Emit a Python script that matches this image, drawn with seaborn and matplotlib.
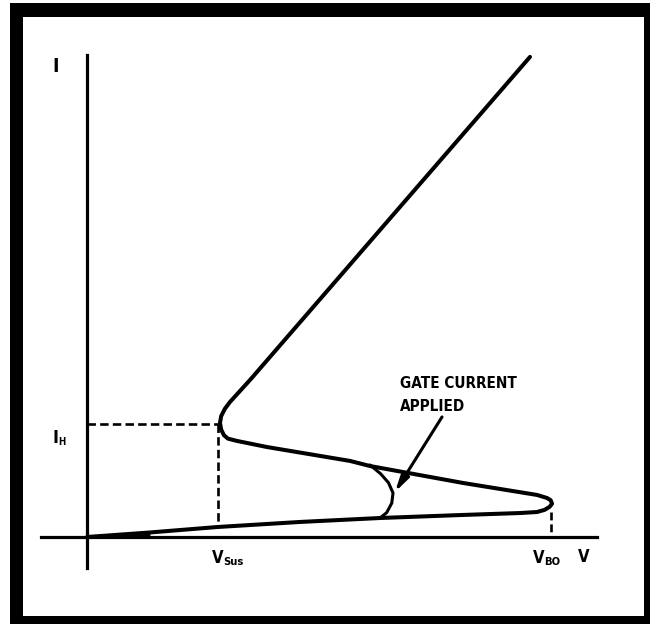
"""Характеристика тиристора: ток I от напряжения V"""

import matplotlib
matplotlib.use('Agg')
import matplotlib.pyplot as plt
import matplotlib.patches as mpatches
import seaborn as sns

# основная кривая (V, I), от начала координат до верхнего луча
curve_v = [0.0, 1.352, 2.790, 4.571, 6.288, 8.069, 9.292, 9.657, 9.820, 9.930,
           9.979, 9.950, 9.871, 9.657, 8.069, 6.073, 5.644, 3.863, 3.219,
           3.026, 2.940, 2.880, 2.854, 2.880, 2.960, 3.069, 3.498, 9.506]
curve_i = [0.0, 0.040, 0.088, 0.133, 0.168, 0.195, 0.212, 0.221, 0.240, 0.268,
           0.295, 0.325, 0.345, 0.372, 0.478, 0.628, 0.673, 0.796, 0.850,
           0.870, 0.900, 0.950, 1.009, 1.070, 1.135, 1.195, 1.389, 4.248]

# клин у начала координат
wedge_v = [0.0, 1.352]
wedge_top = [0.0, 0.040]
wedge_bot = [0.0, 0.012]

# дуга при подаче тока управления
gate_v = [6.073, 6.300, 6.470, 6.567, 6.540, 6.430, 6.288]
gate_i = [0.637, 0.560, 0.480, 0.389, 0.300, 0.215, 0.168]

# характерные точки
V_SUS = 2.811
I_H = 1.0
I_SUS_LOW = 0.088
V_BO = 9.979
I_BO_LOW = 0.221

arrow_tail = (7.618, 1.062)
arrow_head = (6.609, 0.398)

sns.set_style('white')
plt.rcParams['font.family'] = ['DejaVu Sans']

fig = plt.figure(figsize=(6.51, 6.26), dpi=100)
fig.patch.set_facecolor('white')
# чёрная рамка
frame = mpatches.Rectangle((0.0154, 0.0032), 0.983, 0.992,
                           transform=fig.transFigure,
                           facecolor='black', edgecolor='none', zorder=-5)
fig.add_artist(frame)
ax = fig.add_axes([0.0353, 0.016, 0.954, 0.957])
ax.set_zorder(2)
ax.patch.set_facecolor('white')
ax.set_xlim(-1.373, 11.953)
ax.set_ylim(-0.699, 4.602)

# оси как спайны через ноль
for side in ['top', 'right']:
    ax.spines[side].set_visible(False)
ax.spines['left'].set_position(('data', 0))
ax.spines['bottom'].set_position(('data', 0))
ax.spines['left'].set_bounds(-0.274, 4.265)
ax.spines['bottom'].set_bounds(-0.987, 10.944)
for side in ['left', 'bottom']:
    ax.spines[side].set_linewidth(2.3)
    ax.spines[side].set_color('black')
ax.set_xticks([])
ax.set_yticks([])

sns.lineplot(x=curve_v, y=curve_i, sort=False, estimator=None, color='black',
             linewidth=2.9, ax=ax, solid_joinstyle='round', solid_capstyle='round')
ax.fill_between(wedge_v, wedge_bot, wedge_top, color='black', linewidth=0)
sns.lineplot(x=gate_v, y=gate_i, sort=False, estimator=None, color='black',
             linewidth=2.2, ax=ax)
ax.set_xlabel('')
ax.set_ylabel('')

# пунктир к I_H, V_Sus и V_BO
dash = (0, (3.2, 1.6))
ax.plot([0, V_SUS], [I_H, I_H], color='black', lw=1.9, linestyle=dash)
ax.plot([V_SUS, V_SUS], [I_H, I_SUS_LOW], color='black', lw=1.9, linestyle=dash)
ax.plot([V_BO - 0.03, V_BO - 0.03], [I_BO_LOW, 0], color='black', lw=1.9,
        linestyle=(0, (3.0, 1.5)))

ax.annotate('', xy=arrow_head, xytext=arrow_tail,
            arrowprops=dict(arrowstyle='-|>,head_length=1.0,head_width=0.25',
                            color='black', lw=2.2, shrinkA=0, shrinkB=0))

bold = dict(fontweight='bold', fontstretch='condensed', color='black',
            ha='left', va='baseline')
ax.text(6.717, 1.320, 'GATE CURRENT', fontsize=11, **bold)
ax.text(6.717, 1.115, 'APPLIED', fontsize=11, **bold)

ax.text(-0.751, 4.115, 'I', fontsize=14, **bold)
ax.text(-0.740, 0.832, 'I', fontsize=13, **bold)
ax.text(-0.620, 0.814, 'H', fontsize=7, **bold)
ax.text(2.690, -0.230, 'V', fontsize=12, **bold)
ax.text(2.925, -0.248, 'Sus', fontsize=8, **bold)
ax.text(9.560, -0.230, 'V', fontsize=12, **bold)
ax.text(9.800, -0.248, 'BO', fontsize=8, **bold)
ax.text(10.536, -0.221, 'V', fontsize=12, **bold)

fig.savefig('out.png', dpi=100)
plt.close(fig)
